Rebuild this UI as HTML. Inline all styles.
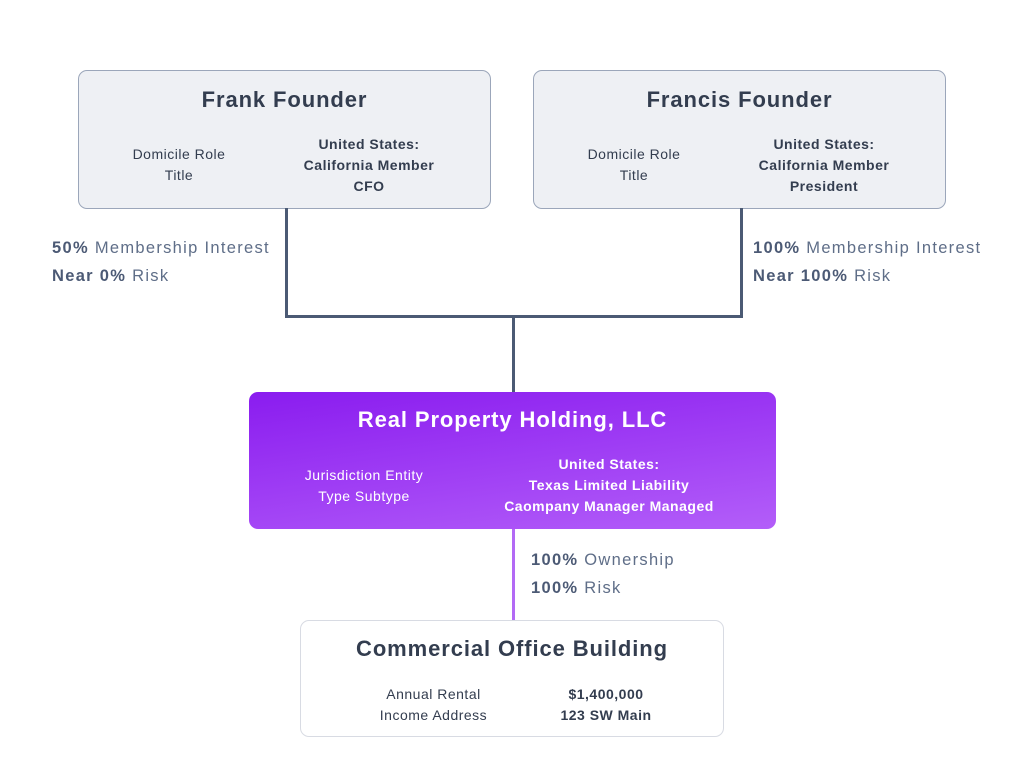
<!DOCTYPE html>
<html><head><meta charset="utf-8"><style>
*{margin:0;padding:0;box-sizing:border-box}
body{width:1024px;height:772px;background:#fff;position:relative;font-family:"Liberation Sans",sans-serif;color:#333d4f;overflow:hidden}
.a{position:absolute}
.box{position:absolute;border-radius:9px}
.gray{background:#eef0f4;border:1px solid #9ba6ba}
.t{position:absolute;left:0;right:0;text-align:center;font-weight:bold;font-size:22px;letter-spacing:0.9px}
.c{position:absolute;text-align:center;font-size:14px;line-height:21px;letter-spacing:0.5px}
.b{font-weight:bold}
.lab{position:absolute;font-size:16.5px;line-height:28px;color:#5f6e88;letter-spacing:1.3px;white-space:nowrap}
.lab b{color:#4c5a75}
.ln{position:absolute;background:#4b5a74}
</style></head><body>
<div class="box gray" style="left:78px;top:70px;width:413px;height:139px">
 <div class="t" style="top:16px">Frank Founder</div>
 <div class="c" style="left:30px;width:140px;top:73px">Domicile Role<br>Title</div>
 <div class="c b" style="left:190px;width:200px;top:63px">United States:<br>California Member<br>CFO</div>
</div>
<div class="box gray" style="left:533px;top:70px;width:413px;height:139px">
 <div class="t" style="top:16px">Francis Founder</div>
 <div class="c" style="left:30px;width:140px;top:73px">Domicile Role<br>Title</div>
 <div class="c b" style="left:190px;width:200px;top:63px">United States:<br>California Member<br>President</div>
</div>
<div class="ln" style="left:285px;top:208px;width:3px;height:110px"></div>
<div class="ln" style="left:740px;top:208px;width:3px;height:110px"></div>
<div class="ln" style="left:285px;top:315px;width:458px;height:3px"></div>
<div class="ln" style="left:512px;top:315px;width:3px;height:78px"></div>
<div class="lab" style="left:52px;top:234px"><b>50%</b> Membership Interest<br><b>Near 0%</b> Risk</div>
<div class="lab" style="left:753px;top:234px"><b>100%</b> Membership Interest<br><b>Near 100%</b> Risk</div>
<div class="box" style="left:249px;top:392px;width:527px;height:137px;background:linear-gradient(172deg,#8a1cef,#b35ef9);color:#fff">
 <div class="t" style="top:15px;color:#fff">Real Property Holding, LLC</div>
 <div class="c" style="left:30px;width:170px;top:73px">Jurisdiction Entity<br>Type Subtype</div>
 <div class="c b" style="left:220px;width:280px;top:62px">United States:<br>Texas Limited Liability<br>Caompany Manager Managed</div>
</div>
<div class="a" style="left:512px;top:529px;width:3px;height:92px;background:#b36af5"></div>
<div class="lab" style="left:531px;top:546px"><b>100%</b> Ownership<br><b>100%</b> Risk</div>
<div class="box" style="left:300px;top:620px;width:424px;height:117px;background:#fff;border:1px solid #d8dbe3">
 <div class="t" style="top:15px">Commercial Office Building</div>
 <div class="c" style="left:40px;width:185px;top:63px">Annual Rental<br>Income Address</div>
 <div class="c b" style="left:225px;width:160px;top:63px">$1,400,000<br>123 SW Main</div>
</div>
</body></html>
